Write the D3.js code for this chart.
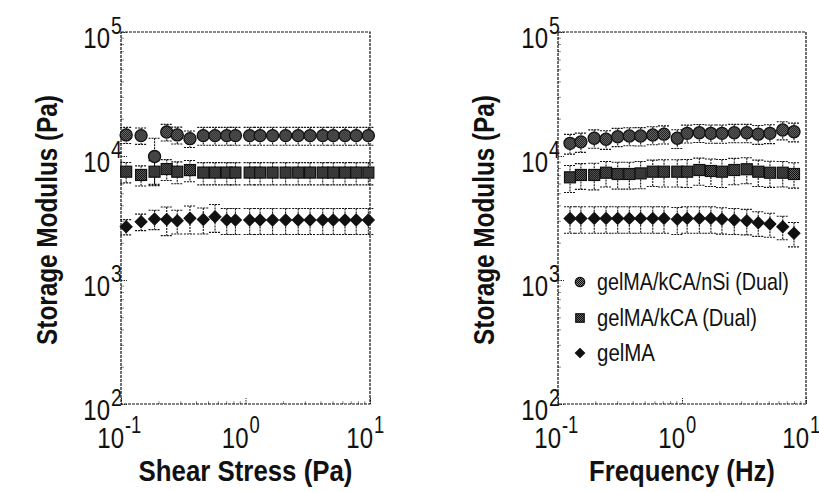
<!DOCTYPE html>
<html>
<head>
<meta charset="utf-8">
<script src="https://cdn.jsdelivr.net/npm/d3@7/dist/d3.min.js"></script>
<style>
  body { margin: 0; background: #fff; }
  text { font-family: "Liberation Sans", Arial, sans-serif; fill: #111; }
</style>
</head>
<body>
<svg id="chart" width="819" height="492"></svg>
<script>
// shear stress sweep (left)
var shearX = [0.11, 0.145, 0.186, 0.233, 0.283, 0.358, 0.458, 0.569, 0.707, 0.83, 1.08,
              1.31, 1.65, 2.1, 2.65, 3.3, 4.17, 5.07, 6.3, 7.75, 9.7];
var shearNSi = [14800, 14600, 9900, 15600, 14800, 13800, 14600, 14600, 14600, 14600, 14600,
                14600, 14600, 14600, 14600, 14600, 14600, 14600, 14600, 14600, 14600];
var shearNSiErr = [2200, 2200, 4000, 2400, 2300, 2100, 2400, 2400, 2400, 2400, 2400,
                   2400, 2400, 2400, 2400, 2400, 2400, 2400, 2400, 2400, 2400];
var shearKCA = [7470, 7030, 7470, 7850, 7470, 7700, 7350, 7350, 7350, 7350, 7350,
                7350, 7350, 7350, 7350, 7350, 7350, 7350, 7350, 7350, 7350];
var shearKCAErr = [1400, 1300, 1700, 1500, 1500, 1500, 1500, 1500, 1500, 1500, 1500,
                   1500, 1500, 1500, 1500, 1500, 1500, 1500, 1500, 1500, 1500];
var shearGel = [2690, 2950, 3100, 3080, 3000, 3150, 3080, 3240, 3050, 3050, 3050,
                3050, 3050, 3050, 3050, 3050, 3050, 3050, 3050, 3050, 3050];
var shearGelErr = [380, 450, 550, 800, 650, 800, 730, 820, 720, 720, 720,
                   720, 720, 720, 720, 720, 720, 720, 720, 720, 720];

// frequency sweep (right)
var freqX = [0.125, 0.153, 0.196, 0.244, 0.303, 0.376, 0.464, 0.581, 0.716, 0.916,
             1.1, 1.38, 1.71, 2.1, 2.64, 3.33, 4.12, 5.12, 6.49, 8.0];
var freqNSi = [12650, 13000, 13900, 13650, 14300, 14500, 14500, 14770, 15000, 13900,
               15230, 15400, 15230, 15230, 15400, 15400, 15000, 15230, 16200, 15700];
var freqNSiErr = [2300, 2300, 2350, 2350, 2400, 2400, 2450, 2450, 2500, 2400,
                  2500, 2550, 2550, 2550, 2600, 2600, 2600, 2650, 2700, 2700];
var freqKCA = [6730, 7030, 7030, 7330, 7160, 7160, 7240, 7470, 7470, 7470,
               7470, 7710, 7570, 7470, 7710, 7820, 7470, 7330, 7330, 7160];
var freqKCAErr = [1650, 1650, 1700, 1700, 1750, 1750, 1800, 1800, 1850, 1850,
                  1900, 1900, 1900, 1900, 1850, 1850, 1800, 1750, 1700, 1650];
var freqGel = [3140, 3140, 3140, 3140, 3140, 3140, 3140, 3140, 3140, 3085,
               3140, 3140, 3140, 3085, 3050, 3010, 2900, 2830, 2690, 2380];
var freqGelErr = [760, 760, 760, 760, 760, 760, 760, 760, 760, 760,
                  760, 760, 760, 740, 720, 700, 650, 620, 580, 530];

var seriesNames = ['gelMA/kCA/nSi (Dual)', 'gelMA/kCA (Dual)', 'gelMA'];
var yDecades = [100, 1000, 10000, 100000];
var yExp = ['2', '3', '4', '5'];
var xDecades = [0.1, 1, 10];
var xExp = ['-1', '0', '1'];

var svg = d3.select('#chart');
var defs = svg.append('defs');

function checker(id, dark, light) {
  var p = defs.append('pattern').attr('id', id)
    .attr('width', 2).attr('height', 2).attr('patternUnits', 'userSpaceOnUse');
  p.append('rect').attr('width', 2).attr('height', 2).attr('fill', light);
  p.append('rect').attr('width', 1).attr('height', 1).attr('fill', dark);
  p.append('rect').attr('x', 1).attr('y', 1).attr('width', 1).attr('height', 1).attr('fill', dark);
}
checker('pc', '#0a0a0a', '#808080');
checker('ps', '#0a0a0a', '#666');

// condensed text: squeeze horizontally to a given width (or by a fixed factor)
function narrow(g, str, x, y, size, opts) {
  opts = opts || {};
  var t = g.append('text').attr('font-size', size)
    .attr('font-weight', opts.bold ? 'bold' : null)
    .attr('text-anchor', opts.anchor || 'start').text(str);
  var sx = opts.len ? opts.len / t.node().getComputedTextLength() : (opts.sx || 0.8);
  t.attr('transform', 'translate(' + x + ',' + y + ')' + (opts.rot ? ' rotate(' + opts.rot + ')' : '') +
    ' scale(' + sx + ',1)');
  return t;
}

var yTop = 32, yBottom = 404;
var y = d3.scaleLog().domain([100, 100000]).range([yBottom, yTop]);

var minorY = [];
yDecades.slice(0, 3).forEach(function (d) {
  for (var k = 2; k <= 9; k++) minorY.push(d * k);
});
var minorX = [];
xDecades.slice(0, 2).forEach(function (d) {
  for (var k = 2; k <= 9; k++) minorX.push(d * k);
});

var markerFns = [
  function (g, s) { g.append('circle').attr('r', s * 0.55).attr('fill', 'url(#pc)').attr('stroke', '#111').attr('stroke-width', 1.3); },
  function (g, s) { g.append('rect').attr('x', -s / 2).attr('y', -s / 2).attr('width', s).attr('height', s).attr('fill', 'url(#ps)').attr('stroke', '#111').attr('stroke-width', 1.2); },
  function (g, s) { g.append('path').attr('d', d3.symbol(d3.symbolSquare, s * s * 0.6)()).attr('transform', 'rotate(45)').attr('fill', '#111').attr('stroke', '#111'); }
];

function drawPanel(x0, x1, xs, vals, errs, xTitle, yTitleX, yLabelRight, legend) {
  var x = d3.scaleLog().domain([0.1, 10]).range([x0, x1]);
  var g = svg.append('g');

  // ticks inside the frame
  g.append('g').attr('transform', 'translate(' + x0 + ',0)')
    .call(d3.axisRight(y).tickValues(minorY).tickSize(3).tickFormat(''));
  g.append('g').attr('transform', 'translate(' + x0 + ',0)')
    .call(d3.axisRight(y).tickValues(yDecades).tickSize(6).tickFormat(''));
  g.append('g').attr('transform', 'translate(0,' + yBottom + ')')
    .call(d3.axisTop(x).tickValues(minorX).tickSize(3).tickFormat(''));
  g.append('g').attr('transform', 'translate(0,' + yBottom + ')')
    .call(d3.axisTop(x).tickValues(xDecades).tickSize(6).tickFormat(''));
  g.selectAll('.domain').remove();
  g.selectAll('.tick line').attr('stroke', '#222').attr('stroke-dasharray', '1.5,1');

  g.append('rect').attr('x', x0).attr('y', yTop)
    .attr('width', x1 - x0).attr('height', yBottom - yTop)
    .attr('fill', 'none').attr('stroke', '#111').attr('stroke-width', 1.2)
    .attr('stroke-dasharray', '3,1');

  // y decade labels
  yDecades.forEach(function (d, i) {
    narrow(g, '10', yLabelRight, y(d) + 16, 30, { anchor: 'end' });
    narrow(g, yExp[i], yLabelRight + 1, y(d) + 2, 23, { sx: 0.85 });
  });
  // x decade labels
  xDecades.forEach(function (d, i) {
    narrow(g, '10', x(d) + 3, 448, 30, { anchor: 'end' });
    narrow(g, xExp[i], x(d) + 4, 433, 23, { sx: 0.8 });
  });

  // titles
  narrow(g, xTitle.text, (x0 + x1) / 2, 481, 30, { anchor: 'middle', bold: true, len: xTitle.len });
  narrow(g, 'Storage Modulus (Pa)', yTitleX, 220, 29, { anchor: 'middle', bold: true, len: 250, rot: -90 });

  // error bars then markers
  vals.forEach(function (arr, si) {
    var eb = g.append('g').attr('stroke', '#111').attr('stroke-width', 1.1)
      .attr('stroke-dasharray', '2,1');
    arr.forEach(function (v, i) {
      var px = x(xs[i]), hi = y(v + errs[si][i]), lo = y(v - errs[si][i]);
      eb.append('line').attr('x1', px).attr('x2', px).attr('y1', hi).attr('y2', lo);
      eb.append('line').attr('x1', px - 6).attr('x2', px + 6).attr('y1', hi).attr('y2', hi);
      eb.append('line').attr('x1', px - 6).attr('x2', px + 6).attr('y1', lo).attr('y2', lo);
    });
  });
  vals.forEach(function (arr, si) {
    arr.forEach(function (v, i) {
      var m = g.append('g').attr('transform', 'translate(' + x(xs[i]) + ',' + y(v) + ')');
      markerFns[si](m, 11);
    });
  });

  if (legend) {
    var rows = [282, 318, 353], lens = [192, 160, 58];
    seriesNames.forEach(function (name, i) {
      var m = g.append('g').attr('transform', 'translate(580,' + rows[i] + ')');
      markerFns[i](m, 8.5);
      narrow(g, name, 597, rows[i] + 8, 24, { len: lens[i] });
    });
  }
}

drawPanel(121, 370, shearX, [shearNSi, shearKCA, shearGel],
  [shearNSiErr, shearKCAErr, shearGelErr], { text: 'Shear Stress (Pa)', len: 214 }, 57, 110, false);
drawPanel(558, 806, freqX, [freqNSi, freqKCA, freqGel],
  [freqNSiErr, freqKCAErr, freqGelErr], { text: 'Frequency (Hz)', len: 186 }, 494, 548, true);
</script>
</body>
</html>
